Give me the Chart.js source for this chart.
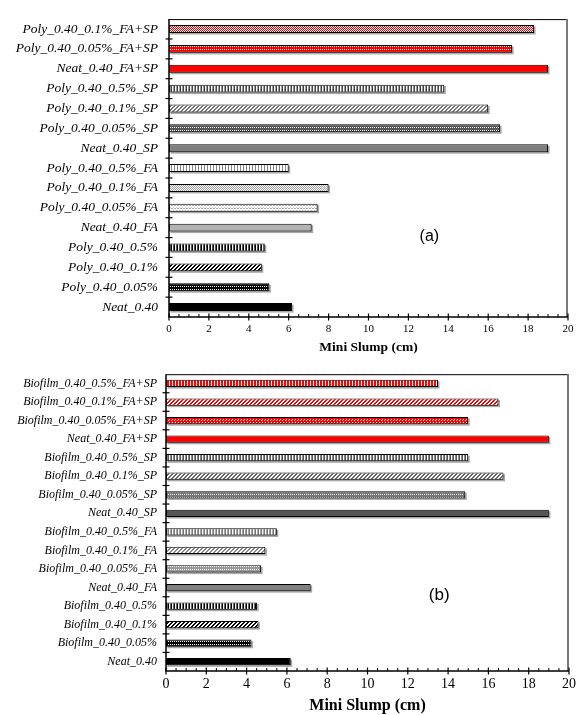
<!DOCTYPE html>
<html>
<head>
<meta charset="utf-8">
<script src="https://cdn.jsdelivr.net/npm/chart.js@4.4.1/dist/chart.umd.min.js"></script>
<style>
  html, body { margin: 0; padding: 0; background: #fff; }
  #wrap { position: relative; width: 581px; height: 715px; }
  canvas { position: absolute; left: 0; }
  #ca { top: 0; }
  #cb { top: 358px; }
</style>
</head>
<body>
<div id="wrap">
  <canvas id="ca" width="581" height="358"></canvas>
  <canvas id="cb" width="581" height="357"></canvas>
</div>
<script>
// ---------------- DATA ----------------
const categoriesA = [
  'Poly_0.40_0.1%_FA+SP', 'Poly_0.40_0.05%_FA+SP', 'Neat_0.40_FA+SP',
  'Poly_0.40_0.5%_SP', 'Poly_0.40_0.1%_SP', 'Poly_0.40_0.05%_SP', 'Neat_0.40_SP',
  'Poly_0.40_0.5%_FA', 'Poly_0.40_0.1%_FA', 'Poly_0.40_0.05%_FA', 'Neat_0.40_FA',
  'Poly_0.40_0.5%', 'Poly_0.40_0.1%', 'Poly_0.40_0.05%', 'Neat_0.40'
];
const slumpA = [18.3, 17.2, 19.0, 13.8, 16.0, 16.6, 19.0, 6.0, 8.0, 7.45, 7.15, 4.8, 4.65, 5.03, 6.17];

const categoriesB = [
  'Biofilm_0.40_0.5%_FA+SP', 'Biofilm_0.40_0.1%_FA+SP', 'Biofilm_0.40_0.05%_FA+SP', 'Neat_0.40_FA+SP',
  'Biofilm_0.40_0.5%_SP', 'Biofilm_0.40_0.1%_SP', 'Biofilm_0.40_0.05%_SP', 'Neat_0.40_SP',
  'Biofilm_0.40_0.5%_FA', 'Biofilm_0.40_0.1%_FA', 'Biofilm_0.40_0.05%_FA', 'Neat_0.40_FA',
  'Biofilm_0.40_0.5%', 'Biofilm_0.40_0.1%', 'Biofilm_0.40_0.05%', 'Neat_0.40'
];
const slumpB = [13.5, 16.5, 15.0, 19.0, 15.0, 16.75, 14.85, 19.0, 5.5, 4.93, 4.72, 7.18, 4.52, 4.59, 4.24, 6.19];

const xTickMin = 0, xTickMax = 20, xTickStep = 2, xMinorStep = 0.5;
const axisTitle = 'Mini Slump (cm)';
const panelLabelA = '(a)', panelLabelB = '(b)';

// ---------------- PATTERNS (styles) ----------------
function tile(w, h, bg, pixels) {
  const c = document.createElement('canvas');
  c.width = w; c.height = h;
  const g = c.getContext('2d');
  g.fillStyle = bg; g.fillRect(0, 0, w, h);
  pixels.forEach(p => { g.fillStyle = p[2]; g.fillRect(p[0], p[1], p[3] || 1, p[4] || 1); });
  return document.createElement('canvas').getContext('2d').createPattern(c, 'repeat');
}
function vstripe(cols) { return tile(cols.length, 1, cols[0], cols.map((c, i) => [i, 0, c])); }
function checker(fg, bg, s) { return tile(2 * s, 2 * s, bg, [[0, 0, fg, s, s], [s, s, fg, s, s]]); }
function diag(fg, bg, s, lw) {
  const px = [];
  for (let i = 0; i < s; i++) for (let k = 0; k < lw; k++) px.push([(i + k) % s, s - 1 - i, fg]);
  return tile(s, s, bg, px);
}
function dotrows(bg, fg) { return tile(2, 3, bg, [[0, 1, fg]]); }

const RED = '#ff0000';
const fillsA = [
  checker(RED, '#ffffff', 1),
  tile(2, 3, RED, [[0, 1, '#ffffff']]),
  RED,
  vstripe(['#444444', '#ffffff', '#999999']),
  diag('#777777', '#ffffff', 4, 2),
  dotrows('#555555', '#ffffff'),
  '#7f7f7f',
  vstripe(['#888888', '#ffffff', '#ffffff']),
  checker('#a0a0a0', '#ffffff', 1),
  tile(3, 3, '#ffffff', [[0, 1, '#aaaaaa'], [1, 1, '#aaaaaa'], [2, 0, '#cccccc']]),
  '#b3b3b3',
  vstripe(['#000000', '#ffffff', '#555555']),
  diag('#000000', '#ffffff', 4, 2),
  dotrows('#000000', '#ffffff'),
  '#000000'
];
const fillsB = [
  vstripe([RED, '#ffffff', RED]),
  diag(RED, '#ffffff', 4, 2),
  tile(3, 3, RED, [[1, 1, '#ffffff'], [0, 2, '#ffffff']]),
  RED,
  vstripe(['#555555', '#ffffff', '#888888']),
  diag('#666666', '#ffffff', 4, 2),
  dotrows('#777777', '#ffffff'),
  '#555555',
  vstripe(['#777777', '#ffffff', '#aaaaaa']),
  diag('#888888', '#ffffff', 4, 2),
  dotrows('#999999', '#ffffff'),
  '#808080',
  vstripe(['#000000', '#ffffff', '#666666']),
  diag('#000000', '#ffffff', 4, 2),
  dotrows('#000000', '#ffffff'),
  '#000000'
];

// ---------------- PLUGINS ----------------
const shadowPlugin = {
  id: 'barShadow',
  beforeDatasetsDraw(chart) {
    const ctx = chart.ctx;
    const meta = chart.getDatasetMeta(0);
    ctx.save();
    ctx.fillStyle = '#a8a8a8';
    meta.data.forEach(el => {
      const p = el.getProps(['x', 'y', 'base', 'height'], true);
      ctx.fillRect(p.base + 1.5, p.y - p.height / 2 + 1.5, p.x - p.base, p.height);
    });
    ctx.restore();
  }
};

function framePlugin(label, labelX, labelY, labelSize) {
  return {
    id: 'frame',
    afterDraw(chart) {
      const ctx = chart.ctx;
      const a = chart.chartArea;
      const xs = chart.scales.x, ys = chart.scales.y;
      ctx.save();
      // top frame
      ctx.strokeStyle = '#000'; ctx.lineWidth = 1;
      ctx.beginPath(); ctx.moveTo(a.left, a.top + 0.5); ctx.lineTo(a.right, a.top + 0.5); ctx.stroke();
      // right frame (gray)
      ctx.strokeStyle = '#7a7a7a'; ctx.lineWidth = 2;
      ctx.beginPath(); ctx.moveTo(a.right - 1, a.top); ctx.lineTo(a.right - 1, a.bottom); ctx.stroke();
      // left & bottom axes
      ctx.strokeStyle = '#000'; ctx.lineWidth = 1.5;
      ctx.beginPath(); ctx.moveTo(a.left, a.top); ctx.lineTo(a.left, a.bottom); ctx.lineTo(a.right, a.bottom); ctx.stroke();
      // y ticks at category boundaries
      ctx.lineWidth = 1.2;
      const n = ys.getLabels().length;
      for (let i = 0; i < n - 1; i++) {
        const y = (ys.getPixelForValue(i) + ys.getPixelForValue(i + 1)) / 2;
        ctx.beginPath(); ctx.moveTo(a.left - 3.5, y); ctx.lineTo(a.left + 3.5, y); ctx.stroke();
      }
      // x ticks (major + minor)
      for (let v = xTickMin; v <= xTickMax + 1e-9; v += xMinorStep) {
        const x = xs.getPixelForValue(v);
        const major = Math.abs(v / xTickStep - Math.round(v / xTickStep)) < 1e-6;
        ctx.lineWidth = major ? 1.2 : 1;
        ctx.beginPath();
        if (major) { ctx.moveTo(x, a.bottom - 3.5); ctx.lineTo(x, a.bottom + 3.5); }
        else { ctx.moveTo(x, a.bottom - 3); ctx.lineTo(x, a.bottom); }
        ctx.stroke();
      }
      // panel label
      ctx.fillStyle = '#000';
      ctx.font = labelSize + 'px "Liberation Sans", Arial, sans-serif';
      ctx.textAlign = 'center'; ctx.textBaseline = 'middle';
      ctx.fillText(label, xs.getPixelForValue(labelX), ys.getPixelForValue(labelY));
      ctx.restore();
    }
  };
}

function makeChart(id, cats, vals, fills, cfg) {
  return new Chart(document.getElementById(id), {
    type: 'bar',
    data: {
      labels: cats,
      datasets: [{
        data: vals,
        backgroundColor: fills,
        borderColor: '#000',
        borderWidth: 1,
        borderSkipped: false,
        categoryPercentage: 1,
        barPercentage: cfg.barPct
      }]
    },
    options: {
      indexAxis: 'y',
      responsive: false,
      animation: false,
      devicePixelRatio: 1,
      layout: { padding: { top: cfg.padTop, right: cfg.padRight, left: 0, bottom: 0 } },
      plugins: { legend: { display: false }, tooltip: { enabled: false } },
      scales: {
        x: {
          type: 'linear', min: xTickMin, max: xTickMax,
          grid: { display: false, drawTicks: false },
          border: { display: false },
          ticks: {
            stepSize: xTickStep, padding: cfg.xTickPad, color: '#000',
            font: { family: '"Liberation Serif", "Times New Roman", serif', size: cfg.xTickSize }
          },
          title: {
            display: true, text: axisTitle, color: '#000',
            padding: { top: 0, bottom: cfg.titlePadBottom },
            font: { family: '"Liberation Serif", "Times New Roman", serif', size: cfg.titleSize, weight: 'bold' }
          },
          afterFit(s) { s.height = cfg.xAxisHeight; }
        },
        y: {
          type: 'category',
          grid: { display: false, drawTicks: false },
          border: { display: false },
          ticks: {
            padding: cfg.yTickPad, color: '#000', autoSkip: false,
            font: { family: '"Liberation Serif", "Times New Roman", serif', size: cfg.yTickSize, style: 'italic' }
          },
          afterFit(s) { s.width = cfg.yAxisWidth; }
        }
      }
    },
    plugins: [shadowPlugin, framePlugin(cfg.label, cfg.labelX, cfg.labelY, cfg.labelSize)]
  });
}

makeChart('ca', categoriesA, slumpA, fillsA, {
  barPct: 0.4, padTop: 10, padRight: 13, yAxisWidth: 169, xAxisHeight: 41,
  xTickPad: 6, xTickSize: 11, titleSize: 13.5, titlePadBottom: 2,
  yTickPad: 11, yTickSize: 13.5,
  label: panelLabelA, labelX: 13.05, labelY: 10.43, labelSize: 16
});
makeChart('cb', categoriesB, slumpB, fillsB, {
  barPct: 0.39, padTop: 15, padRight: 11, yAxisWidth: 166, xAxisHeight: 44,
  xTickPad: 5, xTickSize: 14, titleSize: 16, titlePadBottom: 0,
  yTickPad: 9, yTickSize: 12,
  label: panelLabelB, labelX: 13.56, labelY: 11.44, labelSize: 17
});
</script>
</body>
</html>
